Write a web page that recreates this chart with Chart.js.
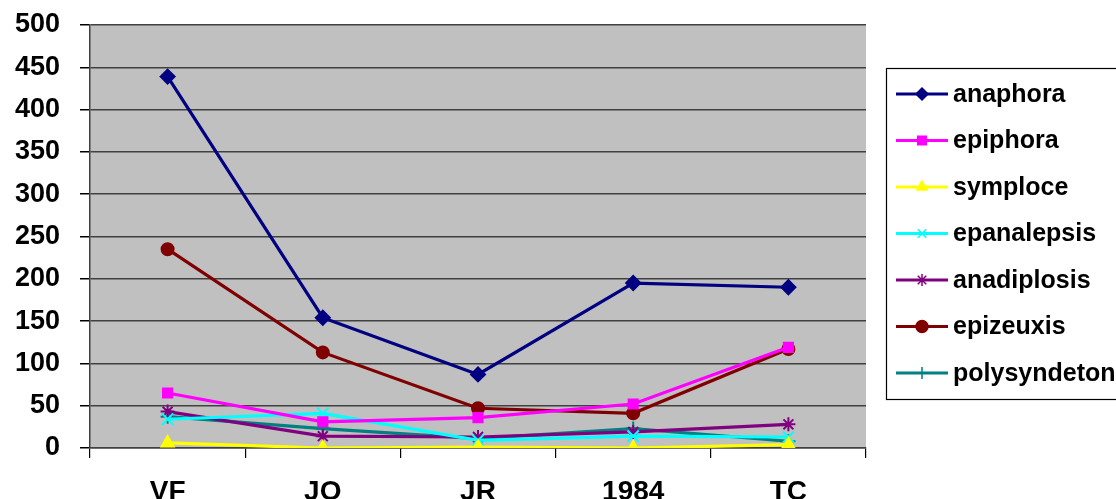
<!DOCTYPE html>
<html>
<head>
<meta charset="utf-8">
<script src="https://cdn.jsdelivr.net/npm/chart.js@4/dist/chart.umd.min.js"></script>
<style>
  html, body { margin: 0; padding: 0; background: #ffffff; overflow: hidden; }
  #wrap { width: 1116px; height: 499px; position: relative; }
</style>
</head>
<body>
<div id="wrap"><canvas id="c" width="1116" height="499"></canvas></div>
<script>
// Categories (works) along the x axis
const works = ['VF', 'JO', 'JR', '1984', 'TC'];

// Counts of each rhetorical figure per work
const anaphora     = [439, 154, 87, 195, 190];
const epiphora     = [65, 31, 36, 52, 119];
const symploce     = [6, 0, 1, 0, 4];
const epanalepsis  = [34, 41, 9, 14, 13];
const anadiplosis  = [43, 14, 13, 19, 28];
const epizeuxis    = [235, 113, 47, 41, 117];
const polysyndeton = [37, 23, 11, 23, 8];

// Y axis tick values
const yTicks = [0, 50, 100, 150, 200, 250, 300, 350, 400, 450, 500];

const FONT = '"Liberation Sans", Arial, sans-serif';

function series(label, data, color, pointStyle, radius) {
  return {
    label, data,
    borderColor: color,
    backgroundColor: color,
    pointBackgroundColor: color,
    pointBorderColor: color,
    pointStyle,
    pointRadius: radius,
    pointBorderWidth: 2,
    borderWidth: 3.2,
    tension: 0,
    fill: false
  };
}

const datasets = [
  series('anaphora', anaphora, '#000080', 'rectRot', 7),
  series('epiphora', epiphora, '#FF00FF', 'rect', 6.5),
  series('symploce', symploce, '#FFFF00', 'triangle', 7),
  series('epanalepsis', epanalepsis, '#00FFFF', 'crossRot', 8),
  series('anadiplosis', anadiplosis, '#800080', 'star', 7),
  series('epizeuxis', epizeuxis, '#800000', 'circle', 6),
  series('polysyndeton', polysyndeton, '#008080', 'cross', 7)
];

// Grey plot-area fill behind the lines
const plotBackground = {
  id: 'plotBackground',
  beforeDraw(chart) {
    const { ctx, chartArea: a } = chart;
    ctx.save();
    ctx.fillStyle = '#C0C0C0';
    ctx.fillRect(a.left, a.top, a.right - a.left, a.bottom - a.top);
    ctx.restore();
  }
};

// Boxed legend on the right, built from the datasets
const boxLegend = {
  id: 'boxLegend',
  afterDraw(chart) {
    const { ctx } = chart;
    const left = 886, top = 68, right = 1130, bottom = 399;
    const rowTop = 94, rowStep = 46.5;
    ctx.save();
    ctx.fillStyle = '#ffffff';
    ctx.fillRect(left, top, right - left, bottom - top);
    ctx.strokeStyle = '#000000';
    ctx.lineWidth = 1.2;
    ctx.strokeRect(left + 0.5, top + 0.5, right - left, bottom - top);
    chart.data.datasets.forEach((ds, i) => {
      const y = rowTop + i * rowStep;
      ctx.strokeStyle = ds.borderColor;
      ctx.lineWidth = 3.2;
      ctx.beginPath();
      ctx.moveTo(896, y);
      ctx.lineTo(948, y);
      ctx.stroke();
      ctx.fillStyle = ds.borderColor;
      ctx.strokeStyle = ds.borderColor;
      ctx.lineWidth = 1.5;
      Chart.helpers.drawPoint(ctx, {
        pointStyle: ds.pointStyle,
        radius: 6,
        borderWidth: 1.5
      }, 922, y);
      ctx.fillStyle = '#000000';
      ctx.font = 'bold 25px ' + FONT;
      ctx.textBaseline = 'middle';
      ctx.textAlign = 'left';
      ctx.fillText(ds.label, 953, y + 1);
    });
    ctx.restore();
  }
};

new Chart(document.getElementById('c'), {
  type: 'line',
  data: { labels: works, datasets },
  plugins: [plotBackground, boxLegend],
  options: {
    responsive: false,
    animation: false,
    devicePixelRatio: 1,
    layout: { padding: { top: 25, right: 250, left: 0, bottom: 0 } },
    plugins: { legend: { display: false }, tooltip: { enabled: false } },
    scales: {
      x: {
        offset: true,
        grid: {
          offset: true,
          drawOnChartArea: false,
          drawTicks: true,
          tickLength: 10,
          color: '#000000',
          lineWidth: 1.2
        },
        border: { color: '#404040', width: 1.5 },
        ticks: {
          color: '#000000',
          font: { family: FONT, size: 28, weight: 'bold' },
          padding: 17,
          maxRotation: 0
        },
        afterFit(scale) {
          scale.height = 51;
          scale.paddingLeft = 0;
          scale.paddingRight = 0;
        }
      },
      y: {
        min: 0,
        max: 500,
        afterBuildTicks(scale) { scale.ticks = yTicks.map(v => ({ value: v })); },
        grid: {
          color: '#404040',
          lineWidth: 1.5,
          tickLength: 10,
          tickColor: '#000000'
        },
        border: { color: '#404040', width: 1.5 },
        ticks: {
          color: '#000000',
          font: { family: FONT, size: 27, weight: 'bold' },
          padding: 20
        },
        afterFit(scale) {
          scale.width = 90;
          scale.paddingTop = 0;
          scale.paddingBottom = 0;
        }
      }
    }
  }
});
</script>
</body>
</html>
